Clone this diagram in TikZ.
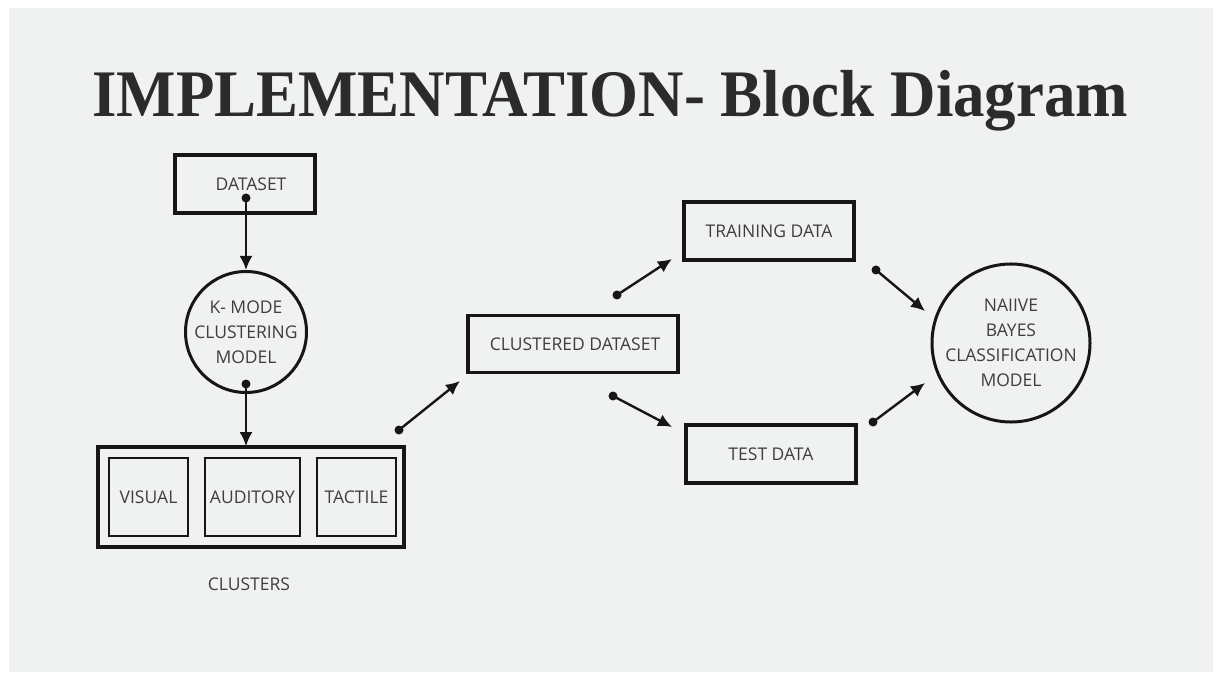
\documentclass[tikz,border=0pt]{standalone}
\usepackage{fontspec}
\setmainfont{Open Sans}
\newfontfamily\titlefont{Liberation Serif}
\usetikzlibrary{arrows.meta}
\definecolor{bggray}{HTML}{EFF2F1}
\definecolor{titlecol}{HTML}{2B2B2B}
\definecolor{txtcol}{HTML}{3E3E3E}
\definecolor{linecol}{HTML}{161616}
\begin{document}
\begin{tikzpicture}[x=1pt,y=-1pt,
  lbl/.style={text=txtcol,font=\fontsize{17.5}{25}\selectfont,align=center,inner sep=0pt},
  bigbox/.style={lbl,draw=linecol,line width=3.6pt,rectangle},
  smallbox/.style={lbl,draw=linecol,line width=2.6pt,rectangle,minimum width=79pt,minimum height=78pt},
  bigcirc/.style={lbl,draw=linecol,line width=3pt,circle},
  conn/.style={draw=linecol,line width=2.4pt,-{Latex[length=14pt,width=13pt]}},
  dotmark/.style={fill=linecol}
]
\useasboundingbox (0,0) rectangle (1219,679);
\fill[white] (0,0) rectangle (1219,679);
\fill[bggray] (9,8) rectangle (1213,672);

\node[anchor=base west,inner sep=0pt,text=titlecol] (title) at (92,117)
  {\resizebox{1036pt}{\height}{\titlefont\bfseries\fontsize{66.5}{70}\selectfont IMPLEMENTATION- Block Diagram}};

% nodes
\node[bigbox,minimum width=140pt,minimum height=58pt] (dataset) at (245,184) {\hspace*{12pt}DATASET};
\node[bigcirc,minimum size=121pt] (kmode) at (246,332) {K- MODE\\CLUSTERING\\MODEL};
\node[bigbox,minimum width=306pt,minimum height=100pt] (clusters) at (251,497) {};
\node[smallbox] (visual) at (148.5,497) {VISUAL};
\node[smallbox,minimum width=95pt] (auditory) at (252.5,497) {AUDITORY};
\node[smallbox] (tactile) at (356.5,497) {TACTILE};
\node[lbl] (clusterslbl) at (249,584) {CLUSTERS};
\node[bigbox,minimum width=210pt,minimum height=57pt] (clustered) at (573,344) {\hspace*{4pt}CLUSTERED DATASET};
\node[bigbox,minimum width=170pt,minimum height=58pt] (training) at (769,231) {TRAINING DATA};
\node[bigbox,minimum width=170pt,minimum height=58pt] (test) at (771,454) {TEST DATA};
\node[bigcirc,minimum size=155pt] (naive) at (1011,343) {NAIIVE\\BAYES\\CLASSIFICATION\\MODEL};

% connector end points
\coordinate (d1) at (246,198);
\coordinate (d2) at (246,384);
\coordinate (d3) at (399,430);
\coordinate (e3) at (460,381);
\coordinate (d4) at (617,295);
\coordinate (e4) at (672,259);
\coordinate (d5) at (613,396);
\coordinate (e5) at (672,427);
\coordinate (d6) at (876,270);
\coordinate (e6) at (925,311);
\coordinate (d7) at (873,422);
\coordinate (e7) at (925,383);

\draw[conn] (d1) -- (kmode.north);
\draw[conn] (d2) -- ([yshift=-1pt]d2 |- clusters.north);
\draw[conn] (d3) -- (e3);
\draw[conn] (d4) -- (e4);
\draw[conn] (d5) -- (e5);
\draw[conn] (d6) -- (e6);
\draw[conn] (d7) -- (e7);

\foreach \p in {d1,d2,d3,d4,d5,d6,d7}{\fill[dotmark] (\p) circle (4.5);}
\end{tikzpicture}
\end{document}
